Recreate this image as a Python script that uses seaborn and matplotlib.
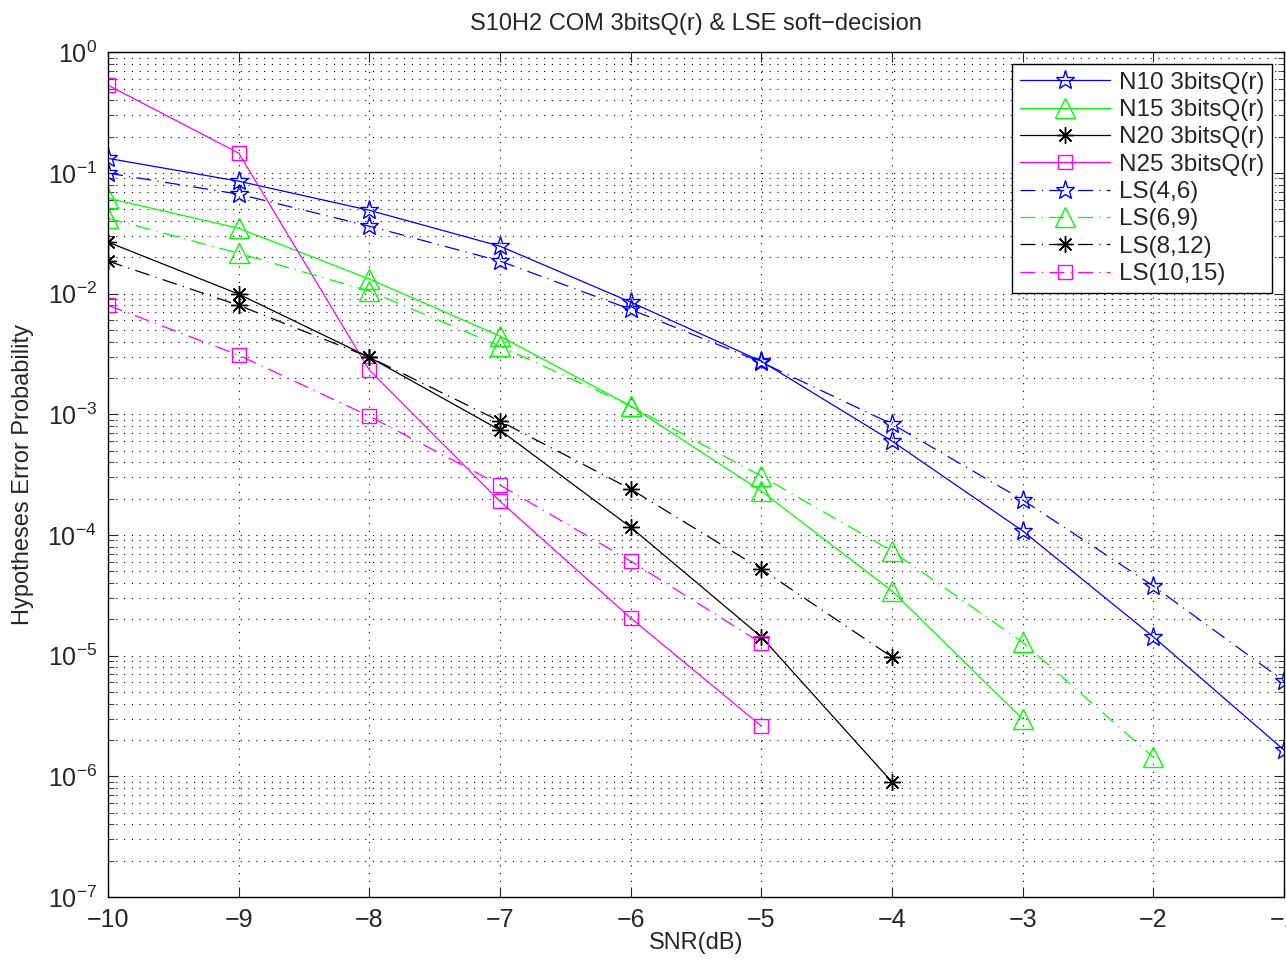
import numpy as np
import pandas as pd
import matplotlib
matplotlib.use("Agg")
import matplotlib.pyplot as plt
import seaborn as sns
from matplotlib.ticker import LogLocator, NullLocator, FixedLocator

snr = [-10, -9, -8, -7, -6, -5, -4, -3, -2, -1]

n10 = [0.132, 0.0854, 0.049, 0.0247, 0.0085, 0.00275, 0.000599, 1.08e-4, 1.43e-5, 1.65e-6]
n15 = [0.0617, 0.0348, 0.0132, 0.00444, 0.00117, 2.31e-4, 3.43e-5, 2.98e-6]
n20 = [0.0267, 0.0099, 0.00297, 7.39e-4, 1.16e-4, 1.43e-5, 8.96e-7]
n25 = [0.533, 0.146, 0.00232, 1.9e-4, 2.05e-5, 2.61e-6]
ls46 = [0.0995, 0.0667, 0.0362, 0.0186, 0.0074, 0.0027, 0.00083, 1.95e-4, 3.77e-5, 6.15e-6]
ls69 = [0.0421, 0.0216, 0.0105, 0.00367, 0.00117, 3.07e-4, 7.35e-5, 1.29e-5, 1.44e-6]
ls812 = [0.0186, 0.0080, 0.00297, 8.77e-4, 2.40e-4, 5.21e-5, 9.73e-6]
ls1015 = [0.0080, 0.00309, 9.65e-4, 2.59e-4, 6.07e-5, 1.27e-5]

labels = ["N10 3bitsQ(r)", "N15 3bitsQ(r)", "N20 3bitsQ(r)", "N25 3bitsQ(r)",
          "LS(4,6)", "LS(6,9)", "LS(8,12)", "LS(10,15)"]
series = [n10, n15, n20, n25, ls46, ls69, ls812, ls1015]

sns.set_style("ticks")
plt.rcParams['font.family'] = ['Liberation Sans', 'DejaVu Sans']
plt.rcParams['mathtext.default'] = 'regular'

fig = plt.figure(figsize=(12.86, 9.6), dpi=100)
ax = fig.add_axes([0.084, 0.0656, 0.9145, 0.880])

colors = ['#0000ff', '#00ff00', '#000000', '#ff00ff'] * 2
asterisk = (8, 2, 0)
markers = ['*', '^', asterisk, 's'] * 2
msizes = [14, 14, 12, 10] * 2
styles = ['-'] * 4 + ['-.'] * 4

for lab, vals, c, m, ms, st in zip(labels, series, colors, markers, msizes, styles):
    df = pd.DataFrame({'SNR': snr[:len(vals)], 'P': vals})
    kw = dict(markerfacecolor='none', markeredgecolor=c, markeredgewidth=1.0)
    if st == '-.':
        kw['dashes'] = (12, 5, 1, 5)
    sns.lineplot(data=df, x='SNR', y='P', ax=ax, color=c, marker=m, markersize=ms,
                 linewidth=0.9, label=lab, **kw)

ax.set_yscale('log')
ax.set_xlim(-10, -1)
ax.set_ylim(1e-7, 1)
ax.xaxis.set_major_locator(FixedLocator(snr))
ax.xaxis.set_minor_locator(NullLocator())
ax.yaxis.set_major_locator(LogLocator(base=10, numticks=10))
ax.yaxis.set_minor_locator(LogLocator(base=10, subs=np.arange(2, 10), numticks=20))
ax.set_xticklabels([str(v).replace('-', '\u2212') for v in snr])

ax.grid(True, which='major', linestyle=(0, (1, 6)), color='black', linewidth=0.8)
ax.grid(True, which='minor', axis='y', linestyle=(0, (1, 6)), color='black', linewidth=0.8)

ax.tick_params(which='both', direction='in', top=True, right=True, labelsize=18)
ax.tick_params(axis='x', pad=8)
ax.tick_params(axis='y', pad=8)
ax.tick_params(which='major', length=7)
ax.tick_params(which='minor', length=4)
for s in ax.spines.values():
    s.set_linewidth(1.0)
    s.set_color('black')

ax.set_xlabel('SNR(dB)', fontsize=17, labelpad=0)
ax.set_ylabel('Hypotheses Error Probability', fontsize=17, labelpad=10)
ax.set_title('S10H2 COM 3bitsQ(r) & LSE soft\u2212decision', fontsize=17, pad=16)

leg = ax.legend(loc='upper right', fontsize=17.5, frameon=True, fancybox=False,
                framealpha=1, edgecolor='black', borderaxespad=0.5,
                handlelength=3.7, labelspacing=0.22, borderpad=0.3, handletextpad=0.4)
leg.get_frame().set_linewidth(1.0)

fig.savefig('out.png', dpi=100)
